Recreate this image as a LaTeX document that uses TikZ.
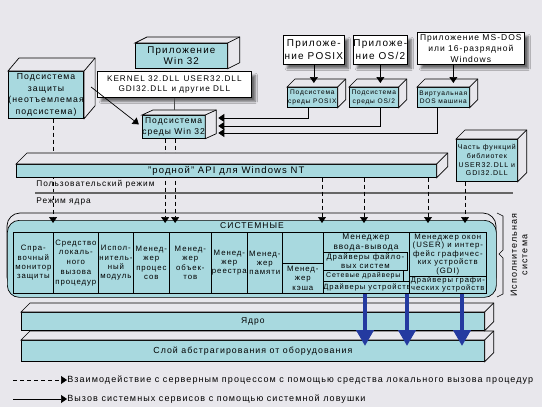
\documentclass[tikz,border=0pt]{standalone}
\usepackage{fontspec}
\setmainfont{Liberation Sans}[LetterSpace=12]
\usetikzlibrary{arrows.meta,calc,shadows.blur}
\definecolor{bgc}{RGB}{232,231,236}
\definecolor{cyanc}{RGB}{168,217,223}
\definecolor{bluec}{RGB}{36,58,160}
\newcommand{\fs}[2]{\fontsize{#1}{#2}\selectfont}
\newcommand{\cubeface}[3]{%
  \filldraw[face] (#1.north west) -- ++(#2,-#3) -- ($(#1.north east)+(#2,-#3)$) -- ($(#1.south east)+(#2,-#3)$) -- (#1.south east) -- (#1.north east) -- cycle;
  \draw (#1.north east) -- ++(#2,-#3);}
\begin{document}
\begin{tikzpicture}[x=1pt,y=-1pt,line width=0.7pt,
  cy/.style={draw=black,fill=cyanc,inner sep=0pt,anchor=north west,align=center},
  wb/.style={draw=black,fill=white,inner sep=0pt,anchor=north west,align=center,
    blur shadow={shadow xshift=4pt,shadow yshift=-4pt,shadow blur steps=6,shadow opacity=55}},
  face/.style={draw=black,fill=bgc},
  rpc/.style={dash pattern=on 4pt off 3pt,-{Triangle[length=6pt,width=8pt]}},
  call/.style={-{Triangle[length=6pt,width=8pt]}},
  trap/.style={draw=bluec,line width=4.5pt,-{Triangle[length=16pt,width=17pt,fill=bluec]}},
  cell/.style={draw=black,fill=cyanc,inner sep=0pt,anchor=north west,align=center,font=\fs{7.8}{9.2}},
  lbl/.style={inner sep=0pt,anchor=west},
]
\path[use as bounding box,fill=bgc] (0,0) rectangle (542,407);

% ---------- executive ----------
\draw[fill=bgc,rounded corners=13pt] (7,213) rectangle (496,290);
\node[draw=black,fill=cyanc,rounded corners=12pt,inner sep=0pt,anchor=north west,
  minimum width=489pt,minimum height=77pt] (exec) at (7,220) {};
\node[inner sep=0pt,font=\fs{8.5}{9}] (sysl) at (252,226) {СИСТЕМНЫЕ};
\node[cell,minimum width=40pt,minimum height=61pt] (c1) at (13,232) {Спра-\\вочный\\монитор\\защиты};
\node[cell,minimum width=45pt,minimum height=61pt,font=\fs{7.8}{9.8}] (c2) at (53,232) {Средство\\локаль-\\ного\\вызова\\процедур};
\node[cell,minimum width=35pt,minimum height=61pt] (c3) at (98,232) {Испол-\\нитель-\\ный\\модуль};
\node[cell,minimum width=36pt,minimum height=61pt] (c4) at (133,232) {Менед-\\жер\\процес\\сов};
\node[cell,minimum width=42pt,minimum height=61pt] (c5) at (169,232) {Менед-\\жер\\объек-\\тов};
\node[cell,minimum width=36pt,minimum height=61pt] (c6) at (211,232) {Менед-\\жер\\реестра};
\node[cell,minimum width=35pt,minimum height=61pt] (c7) at (247,232) {Менед-\\жер\\памяти};
\node[cell,minimum width=41pt,minimum height=31pt] (c8a) at (282,232) {};
\node[cell,minimum width=41pt,minimum height=30pt] (c8b) at (282,263) {Менед-\\жер\\кэша};
\node[cell,minimum width=86pt,minimum height=61pt] (c9) at (323,232) {};
\node[inner sep=0pt,align=center,font=\fs{8.3}{10}] (c9t) at (366,242) {Менеджер\\ввода-вывода};
\node[cell,minimum width=84pt,minimum height=18pt,font=\fs{7.8}{8.5}] (fsd) at (323,252) {Драйверы файло-\\вых систем};
\node[cell,minimum width=80pt,minimum height=11pt,font=\fs{7}{8}] (netd) at (323,270) {Сетевые драйверы};
\node[cell,minimum width=85pt,minimum height=12pt,font=\fs{7.6}{8}] (devd) at (323,281) {Драйверы устройств};
\node[cell,minimum width=77pt,minimum height=44pt,font=\fs{7.8}{8.5}] (c10) at (409,232) {Менеджер окон\\(USER) и интер-\\фейс графичес-\\ких устройств\\(GDI)};
\node[cell,minimum width=77pt,minimum height=17pt,font=\fs{7.6}{8}] (gdid) at (409,276) {Драйверы графи-\\ческих устройств};

% brace and label
\draw[line width=0.6pt] (497,213) -- (503,216) -- (503,250) -- (499,254) -- (503,258) -- (503,294) -- (497,297);
\node[rotate=90,align=center,inner sep=0pt,font=\fs{9}{10.5}] (exlab) at (519,255) {Исполнительная\\система};

% ---------- kernel and HAL ----------
\node[cy,minimum width=463pt,minimum height=21pt,font=\fs{8.8}{10}] (hal) at (21,340) {Слой абстрагирования от оборудования};
\cubeface{hal}{9}{9}
\node[cy,minimum width=463pt,minimum height=18pt,font=\fs{8.5}{10}] (kern) at (21,312) {Ядро};
\cubeface{kern}{9}{9}

% ---------- top boxes ----------
\node[cy,minimum width=68pt,minimum height=47pt,font=\fs{8.7}{11.5}] (sec) at (8,71) {Подсистема\\защиты\\(неотъемлемая\\подсистема)};
\cubeface{sec}{11}{13}
\node[cy,minimum width=92pt,minimum height=25pt,font=\fs{9.8}{10.5}] (w32app) at (135,43) {Приложение\\Win 32};
\cubeface{w32app}{12}{6}
\node[wb,minimum width=154pt,minimum height=26pt,font=\fs{8.2}{10.5}] (dll) at (97,71) {KERNEL 32.DLL\enspace USER32.DLL\\GDI32.DLL\enspace и другие DLL};
\node[cy,minimum width=57pt,minimum height=23pt,font=\fs{8.5}{10.5}] (w32sub) at (142,115) {Подсистема\\среды Win 32};
\cubeface{w32sub}{11}{5}

\node[wb,minimum width=61pt,minimum height=29pt,font=\fs{10}{13}] (posixapp) at (283,35) {Приложе-\\ние POSIX};
\node[wb,minimum width=54pt,minimum height=29pt,font=\fs{10}{13}] (os2app) at (353,35) {Приложе-\\ние OS/2};
\node[wb,minimum width=107pt,minimum height=32pt,font=\fs{8.5}{11}] (dosapp) at (417,32) {Приложение MS-DOS\\или 16-разрядной\\Windows};

\node[cy,minimum width=50pt,minimum height=20pt,font=\fs{6.6}{8.5}] (posixsub) at (287,87) {Подсистема\\среды POSIX};
\cubeface{posixsub}{8}{8}
\node[cy,minimum width=49pt,minimum height=20pt,font=\fs{6.6}{8.5}] (os2sub) at (349,87) {Подсистема\\среды OS/2};
\cubeface{os2sub}{8}{8}
\node[cy,minimum width=52pt,minimum height=20pt,font=\fs{6.6}{8.5}] (dosvm) at (417,87) {Виртуальная\\DOS машина};
\cubeface{dosvm}{8}{8}

\node[cy,minimum width=61pt,minimum height=42pt,font=\fs{7}{8.7}] (partdll) at (456,139) {Часть функций\\библиотек\\USER32.DLL и\\GDI32.DLL};
\cubeface{partdll}{9}{9}

% ---------- dashed RPC lines ----------
\coordinate (d1) at ($(sec.south)+(7,0)$);
\coordinate (d2) at ($(w32sub.south)+(-8.5,0)$);
\coordinate (d3) at ($(w32sub.south)+(1.5,0)$);
\draw[rpc,shorten >=-3pt] (d1) -- (d1 |- exec.north);
\draw[rpc,shorten >=-3pt] (d2) -- (d2 |- exec.north);
\draw[rpc,shorten >=-3pt] (d3) -- (d3 |- exec.north);

% mode separator
\coordinate (m1) at (35,193);
\coordinate (m2) at (513,193);
\draw[draw=black!60,line width=1.6pt] (m1) -- (m2);
\node[lbl,font=\fs{8.3}{9}] (umode) at (36,184) {Пользовательский режим};
\node[lbl,font=\fs{8.3}{9}] (kmode) at (36,202) {Режим ядра};

% ---------- native API bar ----------
\node[cy,minimum width=420pt,minimum height=13pt,font=\fs{9.5}{10}] (api) at (16,164) {"родной" API для Windows NT};
\cubeface{api}{11}{11}

\coordinate (a1) at ($(api.south west)+(306,0)$);
\coordinate (a2) at ($(api.south west)+(348,0)$);
\coordinate (a3) at ($(api.south west)+(412,0)$);
\coordinate (a4) at ($(partdll.south west)+(9,0)$);
\draw[rpc,shorten >=-3pt] (a1) -- (a1 |- exec.north);
\draw[rpc,shorten >=-3pt] (a2) -- (a2 |- exec.north);
\draw[rpc,shorten >=-3pt] (a3) -- (a3 |- exec.north);
\draw[rpc,shorten >=-3pt] (a4) -- (a4 |- exec.north);

% ---------- solid calls ----------
\draw[call,shorten >=4pt] ($(sec.north east)+(7,16)$) -- (w32sub.west);
\draw[line width=0.5pt,black!70] (dll.south) -- ($(dll.south |- w32sub.north)+(0,-5)$);
\draw[call] (posixapp.south) -- ($(posixapp.south |- posixsub.north)+(0,-4)$);
\draw[call] (os2app.south) -- ($(os2app.south |- os2sub.north)+(0,-4)$);
\coordinate (dosa) at ($(dosapp.south)+(-17.5,0)$);
\draw[call] (dosa) -- ($(dosa |- dosvm.north)+(0,-4)$);

\coordinate (w1) at ($(w32sub.north east)+(13,3)$);
\coordinate (w2) at ($(w32sub.north east)+(13,11)$);
\coordinate (w3) at ($(w32sub.north east)+(13,18)$);
\draw[call] ($(posixsub.south)+(-4,0)$) |- (w1);
\draw[call] ($(os2sub.south)+(6.5,0)$) |- (w2);
\draw[call] ($(dosvm.south)+(-6,0)$) |- (w3);

% ---------- traps (blue arrows) ----------
\coordinate (b1) at ($(devd.south west)+(42,0)$);
\coordinate (b2) at ($(devd.south west)+(84,0)$);
\coordinate (b3) at ($(gdid.south west)+(53,0)$);
\draw[trap,shorten >=-6pt] (b1) -- (b1 |- hal.north);
\draw[trap,shorten >=-6pt] (b2) -- (b2 |- hal.north);
\draw[trap,shorten >=-6pt] (b3) -- (b3 |- hal.north);

% ---------- legend ----------
\coordinate (l1s) at (13,380);
\coordinate (l2s) at (13,399);
\node[lbl,font=\fs{9}{10}] (leg1) at (67,380) {Взаимодействие с серверным процессом с помощью средства локального вызова процедур};
\node[lbl,font=\fs{9}{10}] (leg2) at (67,399) {Вызов системных сервисов с помощью системной ловушки};
\draw[rpc] (l1s) -- (leg1.west);
\draw[call] (l2s) -- (leg2.west);
\end{tikzpicture}
\end{document}
